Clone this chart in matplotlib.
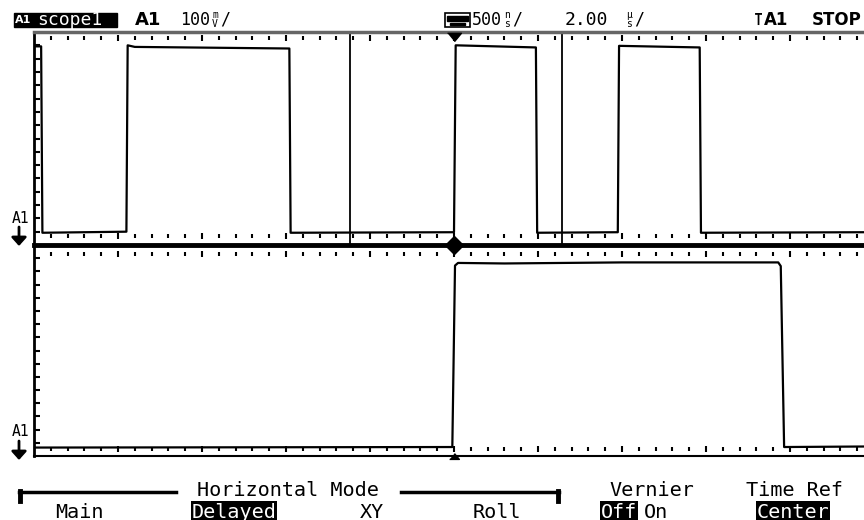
import matplotlib
matplotlib.use('Agg')
import matplotlib.pyplot as plt
import numpy as np
from matplotlib.patches import Rectangle, FancyArrowPatch
from matplotlib.lines import Line2D

W, H = 864, 520
MONO = 'DejaVu Sans Mono'

# main timebase trace, A1 (time in us, level in mV)
main_t = [-10.0, -9.83, -9.80, -7.80, -7.77, -7.6, -3.92, -3.89, 0.00, 0.04,
          1.95, 1.98, 3.90, 3.93, 5.85, 5.88, 9.76]
main_v = [348, 348, -2, 0, 350, 347, 344, -2, -1, 350,
          346, -2, -1, 349, 346, -2, -1]

# delayed timebase trace, A1 (time in ns, level in mV)
delay_t = [-2500, -10, 6, 24, 300, 1000, 1930, 1945, 1965, 2441]
delay_v = [-9, -8, 336, 341, 340, 342, 342, 335, -8, -7]

# delayed window edges drawn on the main trace (us)
window_edges = [-2.48, 2.57]

# soft keys
key_top = ['Horizontal Mode', 'Vernier', 'Time Ref']
key_bottom = ['Main', 'Delayed', 'XY', 'Roll', 'Off', 'On', 'Center']
key_selected = ['Delayed', 'Off', 'Center']


def fx(x):
    return x / W


def fy(y):
    return 1 - y / H


fig = plt.figure(figsize=(8.64, 5.2), dpi=100)
fig.patch.set_facecolor('white')

ax_up = fig.add_axes([fx(34), fy(245), (864 - 34) / W, (245 - 32) / H])
ax_lo = fig.add_axes([fx(34), fy(456), (864 - 34) / W, (456 - 245) / H])

ax_up.set_xlim(-10, -10 + 830 / 42)
ax_lo.set_xlim(-2500, -2500 + 830 / 0.168)
for ax in (ax_up, ax_lo):
    ax.set_ylim(-25, 375)
    ax.set_xticks([])
    ax.set_yticks(np.arange(0, 375, 25))
    ax.tick_params(axis='y', direction='in', length=4, width=1.5, labelleft=False)
    ax.spines['right'].set_visible(False)
    ax.spines['left'].set_linewidth(2)
    ax.patch.set_alpha(0)

ax_up.spines['top'].set_color('#666666')
ax_up.spines['top'].set_linewidth(2.5)
ax_up.spines['bottom'].set_linewidth(3.5)
ax_lo.spines['top'].set_visible(False)
ax_lo.spines['bottom'].set_linewidth(1.5)

# graticule dots
def dot_rows(ax, start, stop, step, rows):
    pos = np.arange(start, stop, step)
    for k, p in enumerate(pos):
        if k == 0:
            continue
        major = (k % 5 == 0)
        for r in rows:
            ax.plot(p, r, ls='', marker='|', ms=5 if major else 2.5,
                    mew=1.5, color='k')

dot_rows(ax_up, -10, 9.8, 0.4, [364, -8])
dot_rows(ax_lo, -2500, 2441, 100, [358, -12])

# traces
ax_up.plot(main_t, main_v, color='k', lw=1.6)
ax_lo.plot(delay_t, delay_v, color='k', lw=1.6)
for e in window_edges:
    ax_up.axvline(e, color='k', lw=1.3)

# trigger / delay markers
tri_down = [(-1, 0.6), (1, 0.6), (0, -0.6)]
tri_up = [(-1, -0.6), (1, -0.6), (0, 0.6)]
ax_up.plot(0, 366, marker=tri_down, ms=10, color='k', clip_on=False, zorder=5)
ax_up.plot(0, -25, marker='D', ms=9.5, color='k', clip_on=False, zorder=5)
ax_lo.plot(0, -25, marker=tri_up, ms=7, color='k', clip_on=False, zorder=5)

# header
fig.add_artist(Rectangle((fx(14), fy(27)), 103 / W, 14 / H,
                         transform=fig.transFigure, color='k'))
fig.text(fx(15), fy(20), 'A1', color='w', fontsize=8, fontweight='bold', va='center')
fig.text(fx(37), fy(20), 'scope1', color='w', fontsize=13, family=MONO, va='center')
fig.text(fx(135), fy(20), 'A1', fontsize=13, fontweight='bold', va='center')
fig.text(fx(180), fy(20), '100', fontsize=12, family=MONO, va='center')
fig.text(fx(215), fy(15.5), 'm', fontsize=7, family=MONO, va='center', ha='center')
fig.text(fx(215), fy(24), 'V', fontsize=7, family=MONO, va='center', ha='center')
fig.text(fx(220), fy(20), '/', fontsize=12, family=MONO, va='center')

fig.add_artist(Rectangle((fx(445), fy(27)), 25 / W, 14 / H, transform=fig.transFigure,
                         facecolor='white', edgecolor='k', lw=1.2))
fig.add_artist(Rectangle((fx(447), fy(21)), 21 / W, 5 / H, transform=fig.transFigure,
                         color='k'))
fig.add_artist(Rectangle((fx(450), fy(25)), 15 / W, 2 / H, transform=fig.transFigure,
                         color='k'))
fig.text(fx(472), fy(20), '500', fontsize=12, family=MONO, va='center')
fig.text(fx(507), fy(15.5), 'n', fontsize=7, family=MONO, va='center', ha='center')
fig.text(fx(507), fy(24), 's', fontsize=7, family=MONO, va='center', ha='center')
fig.text(fx(512), fy(20), '/', fontsize=12, family=MONO, va='center')

fig.text(fx(565), fy(20), '2.00', fontsize=13, family=MONO, va='center')
fig.text(fx(629), fy(15.5), 'µ', fontsize=7, family=MONO, va='center', ha='center')
fig.text(fx(629), fy(24), 's', fontsize=7, family=MONO, va='center', ha='center')
fig.text(fx(634), fy(20), '/', fontsize=12, family=MONO, va='center')

fig.text(fx(754), fy(20), '⊺', fontsize=12, fontweight='bold', va='center')
fig.text(fx(764), fy(20), 'A1', fontsize=12, fontweight='bold', va='center')
fig.text(fx(812), fy(20), 'STOP', fontsize=12, fontweight='bold', va='center')

# channel ground markers
for ty, a0, a1 in [(218, 227, 246), (431, 441, 460)]:
    fig.text(fx(20), fy(ty), 'A1', fontsize=10.5, family=MONO, va='center', ha='center')
    fig.add_artist(FancyArrowPatch((fx(19), fy(a0)), (fx(19), fy(a1)),
                                   transform=fig.transFigure,
                                   arrowstyle='-|>,head_width=0.45,head_length=0.5',
                                   mutation_scale=10, lw=2, color='k',
                                   shrinkA=0, shrinkB=0))

# soft key bar
fig.add_artist(Line2D([fx(19), fx(176)], [fy(492), fy(492)], lw=2.5, color='k',
                      transform=fig.transFigure))
fig.add_artist(Line2D([fx(20), fx(20)], [fy(491), fy(501)], lw=3.5, color='k',
                      transform=fig.transFigure))
fig.add_artist(Line2D([fx(401), fx(559)], [fy(492), fy(492)], lw=2.5, color='k',
                      transform=fig.transFigure))
fig.add_artist(Line2D([fx(558), fx(558)], [fy(491), fy(501)], lw=3.5, color='k',
                      transform=fig.transFigure))

top_x = [288, 652, 795]
for lab, x in zip(key_top, top_x):
    fig.text(fx(x), fy(490), lab, fontsize=14.5, family=MONO, va='center', ha='center')

bot_x = [79, 234, 372, 497, 619, 656, 793]
for lab, x in zip(key_bottom, bot_x):
    if lab in key_selected:
        fig.text(fx(x), fy(512), lab, fontsize=14.5, family=MONO, va='center',
                 ha='center', color='w',
                 bbox=dict(facecolor='k', edgecolor='none', boxstyle='square,pad=0.05'))
    else:
        fig.text(fx(x), fy(512), lab, fontsize=14.5, family=MONO, va='center', ha='center')

plt.savefig('out.png', dpi=100)
